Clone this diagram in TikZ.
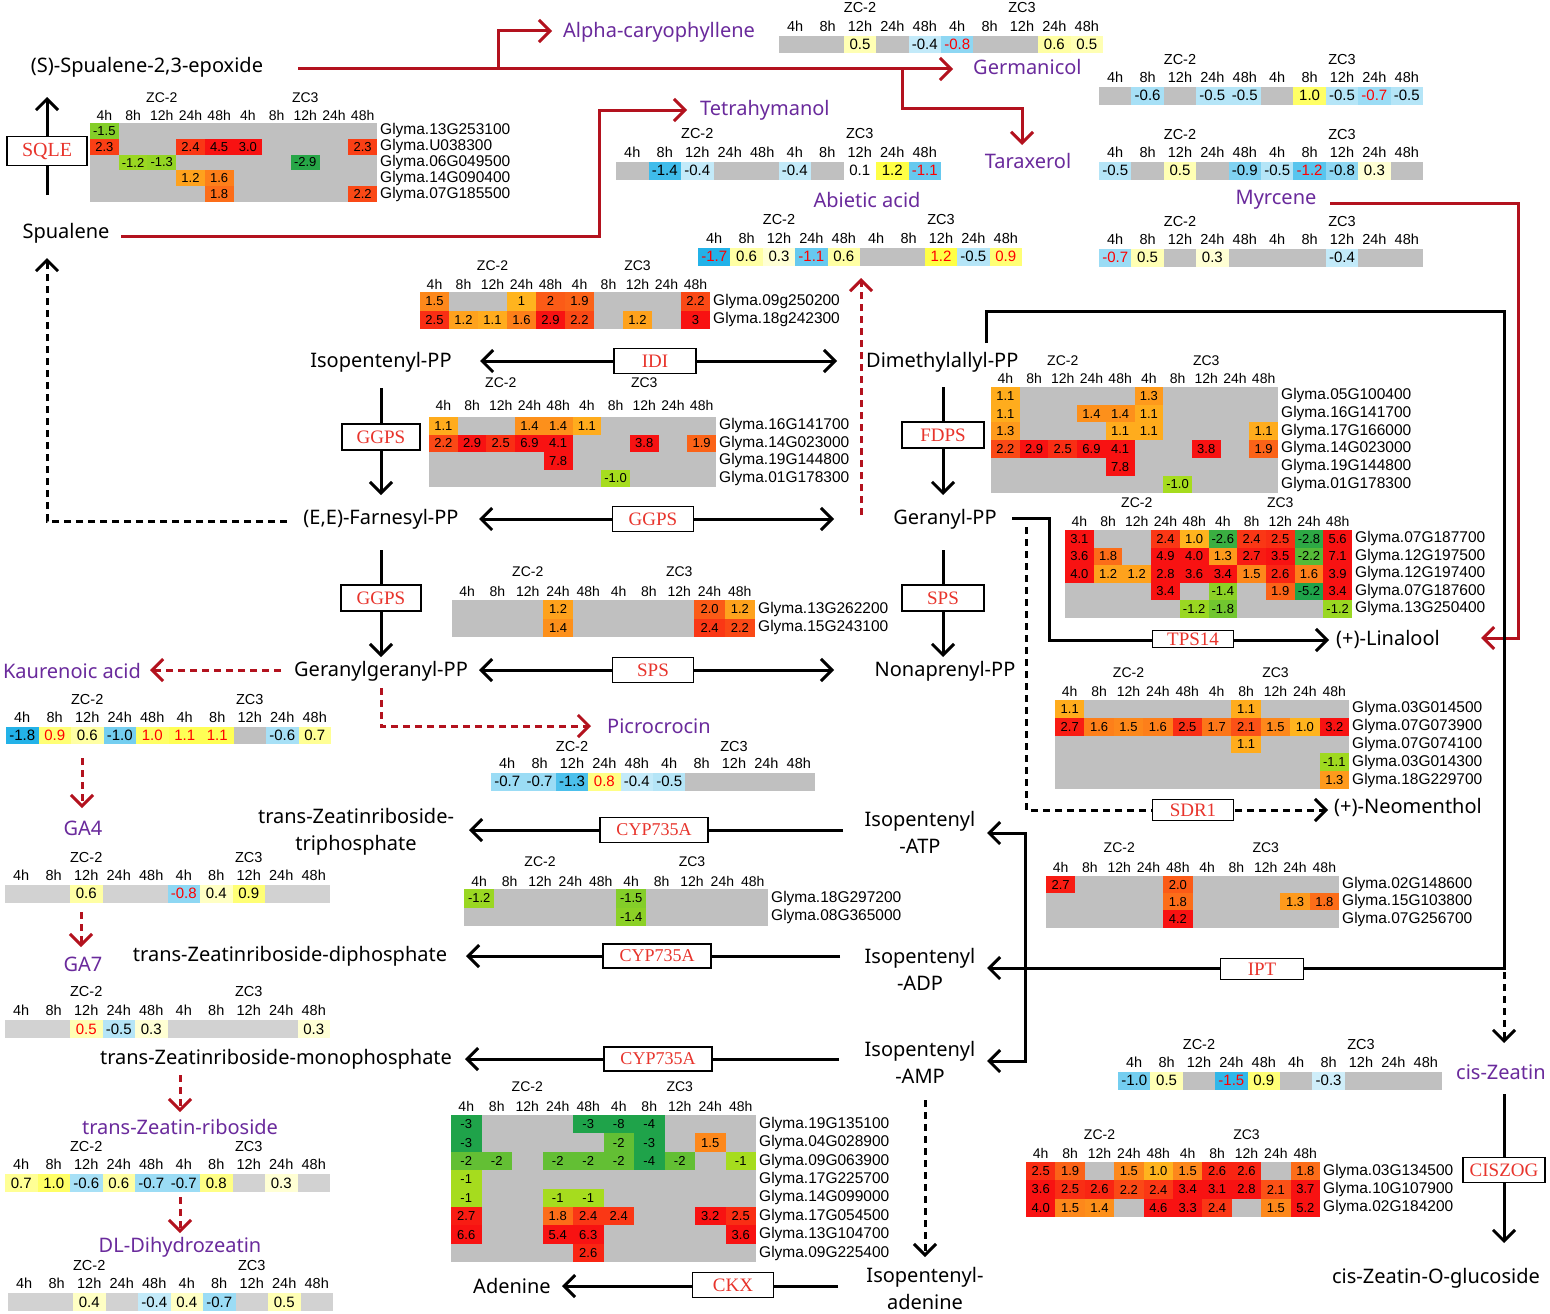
\documentclass[tikz,border=0pt]{standalone}
\usepackage{fontspec}
\setmainfont{Liberation Sans}
\newfontfamily\cmpf{Noto Sans}
\newfontfamily\serf{Liberation Serif}
\usetikzlibrary{arrows.meta}
\pgfdeclarelayer{bg}
\pgfsetlayers{bg,main}
\definecolor{cgr}{HTML}{C0C0C0}
\definecolor{cgl}{HTML}{D2D2D2}
\definecolor{hotA}{HTML}{FFB41E}
\definecolor{hotB}{HTML}{F81212}
\definecolor{colA}{HTML}{A6DC1E}
\definecolor{colB}{HTML}{1FA34A}
\definecolor{blA}{HTML}{CFEEFA}
\definecolor{blB}{HTML}{23B2E8}
\definecolor{ylA}{HTML}{FFFFD4}
\definecolor{ylB}{HTML}{FFFF44}
\definecolor{dred}{HTML}{B3121E}
\definecolor{purp}{HTML}{6A2A9C}
\definecolor{ered}{HTML}{E8342C}
\newcommand\fsz[1]{\fontsize{#1}{#1}\selectfont}
\tikzset{
 >={Straight Barb[length=11pt,width=22pt]},
 cmp/.style={font=\cmpf\fsz{20}, inner sep=0pt},
 cmptwo/.style={font=\cmpf\fontsize{20}{27}\selectfont, inner sep=0pt, align=center},
 met/.style={cmp, text=purp},
 enz/.style={draw=black, line width=1.4pt, fill=white, text=ered, font=\serf\fsz{19}, minimum height=25pt, inner sep=0pt},
 bl/.style={line width=3pt, draw=black},
 rl/.style={line width=3pt, draw=dred},
 dsh/.style={dash pattern=on 7pt off 5pt},
 gval/.style={font=\fsz{13}, inner sep=0pt},
 mval/.style={font=\fsz{15}, inner sep=0pt},
 gtm/.style={font=\fsz{14}, inner sep=0pt},
 mtm/.style={font=\fsz{14.5}, inner sep=0pt},
 gname/.style={font=\fsz{15.5}, inner sep=0pt, anchor=west, xshift=3pt},
}
\newcommand\hhead[3]{%
  \foreach \tl [count=\i from 0] in {4h,8h,12h,24h,48h,4h,8h,12h,24h,48h}
    {\node[#1,yshift=#2] (\hp t\i) at (\i+0.5,0) {\tl};}
  \node[#1,yshift=#3] (\hp z2) at (2.5,0) {ZC-2};
  \node[#1,yshift=#3] (\hp z3) at (7.5,0) {ZC3};}
\newcommand\gcells[1]{%
  \foreach \cc/\rr/\vv in {#1}{%
    \ifdim\vv pt>0pt
      \pgfmathtruncatemacro\hmp{min(100,max(0,(\vv-1)/1.8*100))}%
      \edef\fc{hotB!\hmp!hotA}%
    \else
      \pgfmathtruncatemacro\hmp{min(100,max(0,(abs(\vv)-1)/2*100))}%
      \edef\fc{colB!\hmp!colA}%
    \fi
    \fill[fill=\fc] (\cc,\rr) rectangle ++(1,1);
    \node[gval] (\hp v\cc-\rr) at (\cc+0.5,\rr+0.5) {\vv};}}
\newcommand\mcells[1]{%
  \foreach \cc/\vv/\tc in {#1}{%
    \ifdim\vv pt>0pt
      \ifdim\vv pt<0.2pt \def\fc{white}%
      \else
        \pgfmathtruncatemacro\hmp{min(100,max(0,(\vv-0.3)/0.9*100))}%
        \edef\fc{ylB!\hmp!ylA}%
      \fi
    \else
      \pgfmathtruncatemacro\hmp{min(100,max(0,(abs(\vv)-0.3)/1.3*100))}%
      \edef\fc{blB!\hmp!blA}%
    \fi
    \fill[fill=\fc] (\cc,0) rectangle ++(1,1);
    \node[mval,text=\tc] (\hp v\cc) at (\cc+0.5,0.5) {\vv};}}
\newcommand\gnames[1]{\foreach \gnm [count=\i from 0] in {#1} {\node[gname] (\hp g\i) at (10,\i+0.5) {Glyma.\gnm};}}
\begin{document}
\begin{tikzpicture}[x=1pt,y=-1pt]
\useasboundingbox (0,0) rectangle (1550,1314);
\begin{pgfonlayer}{bg}
\fill[white] (0,0) rectangle (1550,1314);
% red connectors
\draw[rl,->] (298,69) -- (953,69);
\draw[rl,->] (498,69) |- (552,31);
\draw[rl,->] (902,69) |- (1022,108) -- (1022,145);
\draw[rl,->] (121,236) -| (599,110) -- (687,110);
\draw[rl,->] (1330,203) -| (1518,638) -- (1481,638);
\draw[rl,dsh,->] (861,515) -- (861,278);
\draw[rl,dsh,->] (281,670) -- (150,670);
\draw[rl,dsh,->] (381,688) |- (591,726);
\draw[rl,dsh,->] (82,758) -- (82,808);
\draw[rl,dsh,->] (81,912) -- (81,947);
\draw[rl,dsh,->] (180,1075) -- (180,1112);
\draw[rl,dsh,->] (180,1197) -- (180,1233);
% black connectors
\draw[bl,->] (47,195) -- (47,97);
\draw[bl,<->] (480,361) -- (837,361);
\draw[bl,->] (381,388) -- (381,495);
\draw[bl,<->] (479,519) -- (834,519);
\draw[bl,dsh,->] (287,521) -| (47,258);
\draw[bl,->] (381,550) -- (381,657);
\draw[bl,<->] (479,670) -- (834,670);
\draw[bl,->] (943,387) -- (943,495);
\draw[bl,->] (943,550) -- (943,657);
\draw[bl,->] (986,343) |- (1504,311) -- (1504,968) -- (987,968);
\draw[bl,dsh,->] (1504,972) -- (1504,1043);
\draw[bl,<->] (987,833) -- (1025,833) -- (1025,1061) -- (987,1061);
\draw[bl,->] (1012,518) -| (1049,640) -- (1329,640);
\draw[bl,dsh,->] (1026,527) |- (1328,810);
\draw[bl,->] (843,830) -- (469,830);
\draw[bl,->] (840,956) -- (466,956);
\draw[bl,->] (839,1059) -- (465,1059);
\draw[bl,dsh,->] (925,1100) -- (925,1257);
\draw[bl,->] (838,1286) -- (562,1286);
\draw[bl,->] (1504,1094) -- (1504,1243);
\end{pgfonlayer}
% compounds
\node[cmp] (epox) at (147,67) {(S)-Spualene-2,3-epoxide};
\node[cmp] (squal) at (66,233) {Spualene};
\node[met, anchor=west] (alpha) at (563,32) {Alpha-caryophyllene};
\node[met, anchor=west] (germ) at (973,67) {Germanicol};
\node[met] (tarax) at (1028,161) {Taraxerol};
\node[met, anchor=west] (tetra) at (700,110) {Tetrahymanol};
\node[met] (abiet) at (867,200) {Abietic acid};
\node[met] (myrc) at (1276,200) {Myrcene};
\node[cmp] (ipp) at (381,362) {Isopentenyl-PP};
\node[cmp, anchor=west] (dmapp) at (866,362) {Dimethylallyl-PP};
\node[cmp] (fpp) at (381,519) {(E,E)-Farnesyl-PP};
\node[cmp] (gpp) at (945,519) {Geranyl-PP};
\node[cmp] (ggpp) at (381,671) {Geranylgeranyl-PP};
\node[cmp] (npp) at (945,671) {Nonaprenyl-PP};
\node[met] (kaur) at (72,671) {Kaurenoic acid};
\node[met, anchor=west] (picro) at (607,726) {Picrocrocin};
\node[cmp, anchor=west] (lina) at (1336,639) {(+)-Linalool};
\node[cmp, anchor=west] (neom) at (1334,807) {(+)-Neomenthol};
\node[met] (ga4) at (83,828) {GA4};
\node[met] (ga7) at (83,964) {GA7};
\node[cmptwo] (tztp) at (356,832) {trans-Zeatinriboside-\\triphosphate};
\node[cmp] (tzdp) at (290,956) {trans-Zeatinriboside-diphosphate};
\node[cmp] (tzmp) at (276,1059) {trans-Zeatinriboside-monophosphate};
\node[met] (tzr) at (180,1127) {trans-Zeatin-riboside};
\node[met] (dlz) at (180,1247) {DL-Dihydrozeatin};
\node[cmptwo] (iatp) at (920,832) {Isopentenyl\\-ATP};
\node[cmptwo] (iadp) at (920,969) {Isopentenyl\\-ADP};
\node[cmptwo] (iamp) at (920,1062) {Isopentenyl\\-AMP};
\node[cmptwo] (iade) at (925,1288) {Isopentenyl-\\adenine};
\node[cmp] (aden) at (512,1286) {Adenine};
\node[met, anchor=west] (cisz) at (1456,1072) {cis-Zeatin};
\node[cmp] (czog) at (1436,1278) {cis-Zeatin-O-glucoside};
% enzymes
\node[enz, minimum width=80pt, minimum height=29pt, font=\serf\fsz{20}] (sqle) at (47,151) {SQLE};
\node[enz, minimum width=82pt] (idi) at (655,361) {IDI};
\node[enz, minimum width=78pt, minimum height=26pt] (ggpsa) at (381,437) {GGPS};
\node[enz, minimum width=81pt] (ggpsb) at (653,519) {GGPS};
\node[enz, minimum width=80pt, minimum height=26pt] (ggpsc) at (381,598) {GGPS};
\node[enz, minimum width=81pt] (spsa) at (653,670) {SPS};
\node[enz, minimum width=82pt, minimum height=26pt] (fdps) at (943,435) {FDPS};
\node[enz, minimum width=82pt, minimum height=26pt] (spsb) at (943,598) {SPS};
\node[enz, minimum width=81pt, minimum height=17pt] (tps) at (1193,639) {TPS14};
\node[enz, minimum width=81pt, minimum height=21pt] (sdr) at (1193,810) {SDR1};
\node[enz, minimum width=108pt, font=\serf\fsz{18}] (cypa) at (654,830) {CYP735A};
\node[enz, minimum width=108pt, minimum height=24pt, font=\serf\fsz{18}] (cypb) at (657,956) {CYP735A};
\node[enz, minimum width=108pt, minimum height=24pt, font=\serf\fsz{18}] (cypc) at (658,1059) {CYP735A};
\node[enz, minimum width=83pt, minimum height=21pt] (ipt) at (1262,969) {IPT};
\node[enz, minimum width=81pt] (ckx) at (733,1285) {CKX};
\node[enz, minimum width=82pt] (ciszog) at (1504,1170) {CISZOG};
% ---------- gene heatmaps ----------
\def\hp{sq}
\begin{scope}[shift={(90,123)},x=28.7pt,y=-15.8pt]
 \fill[cgr] (0,0) rectangle (10,5);
 \gcells{0/0/-1.5,0/1/2.3,3/1/2.4,4/1/4.5,5/1/3.0,9/1/2.3,1/2/-1.2,2/2/-1.3,7/2/-2.9,3/3/1.2,4/3/1.6,4/4/1.8,9/4/2.2}
 \hhead{gtm}{8pt}{25pt}
 \gnames{13G253100,U038300,06G049500,14G090400,07G185500}
\end{scope}
\def\hp{id}
\begin{scope}[shift={(420,292)},x=29pt,y=-18.5pt]
 \fill[cgr] (0,0) rectangle (10,2);
 \gcells{0/0/1.5,3/0/1,4/0/2,5/0/1.9,9/0/2.2,0/1/2.5,1/1/1.2,2/1/1.1,3/1/1.6,4/1/2.9,5/1/2.2,7/1/1.2,9/1/3}
 \hhead{gtm}{8pt}{26pt}
 \gnames{09g250200,18g242300}
\end{scope}
\def\hp{ga}
\begin{scope}[shift={(429,417)},x=28.7pt,y=-17.5pt]
 \fill[cgr] (0,0) rectangle (10,4);
 \gcells{0/0/1.1,3/0/1.4,4/0/1.4,5/0/1.1,0/1/2.2,1/1/2.9,2/1/2.5,3/1/6.9,4/1/4.1,7/1/3.8,9/1/1.9,4/2/7.8,6/3/-1.0}
 \hhead{gtm}{12pt}{34pt}
 \gnames{16G141700,14G023000,19G144800,01G178300}
\end{scope}
\def\hp{gb}
\begin{scope}[shift={(452,600)},x=30.3pt,y=-18.5pt]
 \fill[cgr] (0,0) rectangle (10,2);
 \gcells{3/0/1.2,8/0/2.0,9/0/1.2,3/1/1.4,8/1/2.4,9/1/2.2}
 \hhead{gtm}{9pt}{28pt}
 \gnames{13G262200,15G243100}
\end{scope}
\def\hp{fd}
\begin{scope}[shift={(991,387)},x=28.7pt,y=-17.7pt]
 \fill[cgr] (0,0) rectangle (10,6);
 \gcells{0/0/1.1,5/0/1.3,0/1/1.1,3/1/1.4,4/1/1.4,5/1/1.1,0/2/1.3,4/2/1.1,5/2/1.1,9/2/1.1,0/3/2.2,1/3/2.9,2/3/2.5,3/3/6.9,4/3/4.1,7/3/3.8,9/3/1.9,4/4/7.8,6/5/-1.0}
 \hhead{gtm}{9pt}{26pt}
 \gnames{05G100400,16G141700,17G166000,14G023000,19G144800,01G178300}
\end{scope}
\def\hp{tp}
\begin{scope}[shift={(1065,530)},x=28.7pt,y=-17.5pt]
 \fill[cgr] (0,0) rectangle (10,5);
 \gcells{0/0/3.1,3/0/2.4,4/0/1.0,5/0/-2.6,6/0/2.4,7/0/2.5,8/0/-2.8,9/0/5.6,
  0/1/3.6,1/1/1.8,3/1/4.9,4/1/4.0,5/1/1.3,6/1/2.7,7/1/3.5,8/1/-2.2,9/1/7.1,
  0/2/4.0,1/2/1.2,2/2/1.2,3/2/2.8,4/2/3.6,5/2/3.4,6/2/1.5,7/2/2.6,8/2/1.6,9/2/3.9,
  3/3/3.4,5/3/-1.4,7/3/1.9,8/3/-5.2,9/3/3.4,4/4/-1.2,5/4/-1.8,9/4/-1.2}
 \hhead{gtm}{9pt}{27pt}
 \gnames{07G187700,12G197500,12G197400,07G187600,13G250400}
\end{scope}
\def\hp{sd}
\begin{scope}[shift={(1055,700)},x=29.4pt,y=-17.8pt]
 \fill[cgr] (0,0) rectangle (10,5);
 \gcells{0/0/1.1,6/0/1.1,0/1/2.7,1/1/1.6,2/1/1.5,3/1/1.6,4/1/2.5,5/1/1.7,6/1/2.1,7/1/1.5,8/1/1.0,9/1/3.2,6/2/1.1,9/3/-1.1,9/4/1.3}
 \hhead{gtm}{9pt}{27pt}
 \gnames{03G014500,07G073900,07G074100,03G014300,18G229700}
\end{scope}
\def\hp{ip}
\begin{scope}[shift={(1046,876)},x=29.3pt,y=-17.2pt]
 \fill[cgr] (0,0) rectangle (10,3);
 \gcells{0/0/2.7,4/0/2.0,4/1/1.8,8/1/1.3,9/1/1.8,4/2/4.2}
 \hhead{gtm}{9pt}{28pt}
 \gnames{02G148600,15G103800,07G256700}
\end{scope}
\def\hp{cy}
\begin{scope}[shift={(464,889)},x=30.4pt,y=-18.5pt]
 \fill[cgr] (0,0) rectangle (10,2);
 \gcells{0/0/-1.2,5/0/-1.5,5/1/-1.4}
 \hhead{gtm}{8pt}{27pt}
 \gnames{18G297200,08G365000}
\end{scope}
\def\hp{ck}
\begin{scope}[shift={(451,1115)},x=30.5pt,y=-18.4pt]
 \fill[cgr] (0,0) rectangle (10,8);
 \gcells{0/0/-3,4/0/-3,5/0/-8,6/0/-4,0/1/-3,5/1/-2,6/1/-3,8/1/1.5,
  0/2/-2,1/2/-2,3/2/-2,4/2/-2,5/2/-2,6/2/-4,7/2/-2,9/2/-1,0/3/-1,0/4/-1,3/4/-1,4/4/-1,
  0/5/2.7,3/5/1.8,4/5/2.4,5/5/2.4,8/5/3.2,9/5/2.5,0/6/6.6,3/6/5.4,4/6/6.3,9/6/3.6,4/7/2.6}
 \hhead{gtm}{9pt}{28pt}
 \gnames{19G135100,04G028900,09G063900,17G225700,14G099000,17G054500,13G104700,09G225400}
\end{scope}
\def\hp{cz}
\begin{scope}[shift={(1026,1162)},x=29.4pt,y=-18.3pt]
 \fill[cgr] (0,0) rectangle (10,3);
 \gcells{0/0/2.5,1/0/1.9,3/0/1.5,4/0/1.0,5/0/1.5,6/0/2.6,7/0/2.6,9/0/1.8,
  0/1/3.6,1/1/2.5,2/1/2.6,3/1/2.2,4/1/2.4,5/1/3.4,6/1/3.1,7/1/2.8,8/1/2.1,9/1/3.7,
  0/2/4.0,1/2/1.5,2/2/1.4,4/2/4.6,5/2/3.3,6/2/2.4,8/2/1.5,9/2/5.2}
 \hhead{gtm}{9pt}{27pt}
 \gnames{03G134500,10G107900,02G184200}
\end{scope}
% ---------- metabolite tables ----------
\def\hp{al}
\begin{scope}[shift={(779,36)},x=32.4pt,y=-17.5pt]
 \fill[cgr] (0,0) rectangle (10,1);
 \mcells{2/0.5/black,4/-0.4/black,5/-0.8/red,8/0.6/black,9/0.5/black}
 \hhead{mtm}{10pt}{28pt}
\end{scope}
\def\hp{ge}
\begin{scope}[shift={(1099,87)},x=32.4pt,y=-17.5pt]
 \fill[cgr] (0,0) rectangle (10,1);
 \mcells{1/-0.6/black,3/-0.5/black,4/-0.5/black,6/1.0/black,7/-0.5/black,8/-0.7/red,9/-0.5/black}
 \hhead{mtm}{9.5pt}{27.5pt}
\end{scope}
\def\hp{ta}
\begin{scope}[shift={(1099,162)},x=32.4pt,y=-17.5pt]
 \fill[cgr] (0,0) rectangle (10,1);
 \mcells{0/-0.5/black,2/0.5/black,4/-0.9/black,5/-0.5/black,6/-1.2/red,7/-0.8/black,8/0.3/black}
 \hhead{mtm}{9.5pt}{27.5pt}
\end{scope}
\def\hp{my}
\begin{scope}[shift={(1099,249)},x=32.4pt,y=-17.5pt]
 \fill[cgr] (0,0) rectangle (10,1);
 \mcells{0/-0.7/red,1/0.5/black,3/0.3/black,7/-0.4/black}
 \hhead{mtm}{9.5pt}{27.5pt}
\end{scope}
\def\hp{te}
\begin{scope}[shift={(616,162)},x=32.5pt,y=-17.5pt]
 \fill[cgr] (0,0) rectangle (10,1);
 \mcells{1/-1.4/black,2/-0.4/black,5/-0.4/black,7/0.1/black,8/1.2/black,9/-1.1/red}
 \hhead{mtm}{9.5pt}{28pt}
\end{scope}
\def\hp{ab}
\begin{scope}[shift={(698,248)},x=32.4pt,y=-17.5pt]
 \fill[cgr] (0,0) rectangle (10,1);
 \mcells{0/-1.7/red,1/0.6/black,2/0.3/black,3/-1.1/red,4/0.6/black,7/1.2/red,8/-0.5/black,9/0.9/red}
 \hhead{mtm}{10pt}{28pt}
\end{scope}
\def\hp{ka}
\begin{scope}[shift={(6,727)},x=32.5pt,y=-17pt]
 \fill[cgr] (0,0) rectangle (10,1);
 \mcells{0/-1.8/black,1/0.9/red,2/0.6/black,3/-1.0/black,4/1.0/red,5/1.1/red,6/1.1/red,8/-0.6/black,9/0.7/black}
 \hhead{mtm}{9.5pt}{27pt}
\end{scope}
\def\hp{pi}
\begin{scope}[shift={(491,773)},x=32.4pt,y=-17.5pt]
 \fill[cgr] (0,0) rectangle (10,1);
 \mcells{0/-0.7/black,1/-0.7/black,2/-1.3/black,3/0.8/red,4/-0.4/black,5/-0.5/black}
 \hhead{mtm}{9.5pt}{26.5pt}
\end{scope}
\def\hp{gf}
\begin{scope}[shift={(5,885)},x=32.5pt,y=-17.5pt]
 \fill[cgl] (0,0) rectangle (10,1);
 \mcells{2/0.6/black,5/-0.8/red,6/0.4/black,7/0.9/black}
 \hhead{mtm}{9.5pt}{28pt}
\end{scope}
\def\hp{gs}
\begin{scope}[shift={(5,1020)},x=32.5pt,y=-18pt]
 \fill[cgl] (0,0) rectangle (10,1);
 \mcells{2/0.5/red,3/-0.5/black,4/0.3/black,9/0.3/black}
 \hhead{mtm}{10pt}{29pt}
\end{scope}
\def\hp{tz}
\begin{scope}[shift={(5,1174)},x=32.5pt,y=-18pt]
 \fill[cgl] (0,0) rectangle (10,1);
 \mcells{0/0.7/black,1/1.0/black,2/-0.6/black,3/0.6/black,4/-0.7/black,5/-0.7/black,6/0.8/black,8/0.3/black}
 \hhead{mtm}{9.5pt}{27.5pt}
\end{scope}
\def\hp{dl}
\begin{scope}[shift={(8,1293)},x=32.5pt,y=-18pt]
 \fill[cgl] (0,0) rectangle (10,1);
 \mcells{2/0.4/black,4/-0.4/black,5/0.4/black,6/-0.7/black,8/0.5/black}
 \hhead{mtm}{9.5pt}{27.5pt}
\end{scope}
\def\hp{cs}
\begin{scope}[shift={(1118,1072)},x=32.4pt,y=-17.5pt]
 \fill[cgr] (0,0) rectangle (10,1);
 \mcells{0/-1.0/black,1/0.5/black,3/-1.5/red,4/0.9/black,6/-0.3/black}
 \hhead{mtm}{10pt}{28pt}
\end{scope}
\end{tikzpicture}
\end{document}
